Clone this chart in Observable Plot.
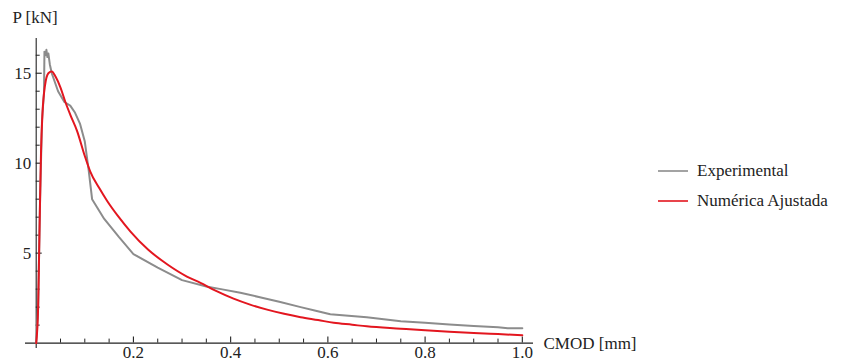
<!DOCTYPE html>
<html><head><meta charset="utf-8">
<script src="https://cdn.jsdelivr.net/npm/d3@7"></script>
<script src="https://cdn.jsdelivr.net/npm/@observablehq/plot@0.6"></script>
<style>
body{margin:0;background:#fff;}
#wrap{position:relative;width:843px;height:362px;font-family:"Liberation Serif","Times New Roman","DejaVu Serif",serif;}
#wrap svg text{font-family:"Liberation Serif","Times New Roman","DejaVu Serif",serif;}
#legend{position:absolute;left:658px;top:156px;font-size:17px;color:#222;}
.item{display:flex;align-items:center;height:30px;white-space:nowrap;}
.item svg{margin-right:9px;}
</style></head><body><div id="wrap"></div>
<script>
// Experimental curve (CMOD mm, P kN)
const expX = [0, 0.004, 0.008, 0.012, 0.016, 0.017, 0.019, 0.021, 0.023, 0.025, 0.028, 0.032, 0.045, 0.058, 0.07, 0.08, 0.09, 0.1, 0.108, 0.115, 0.14, 0.17, 0.2, 0.25, 0.3, 0.35, 0.38, 0.42, 0.46, 0.5, 0.544, 0.575, 0.605, 0.68, 0.75, 0.8, 0.85, 0.9, 0.95, 0.97, 1.0];
const expY = [0, 2, 8, 12.4, 13.9, 16.2, 16.0, 16.3, 15.9, 16.1, 15.5, 15.0, 14.0, 13.4, 13.2, 12.8, 12.2, 11.2, 9.6, 8.0, 6.9, 5.9, 4.95, 4.2, 3.5, 3.15, 3.0, 2.8, 2.55, 2.3, 2.0, 1.8, 1.6, 1.44, 1.22, 1.13, 1.03, 0.95, 0.88, 0.82, 0.82];
// Fitted numerical curve
const numX = [0, 0.004, 0.006, 0.008, 0.010, 0.013, 0.018, 0.025, 0.032, 0.04, 0.05, 0.06, 0.07, 0.084, 0.1, 0.111, 0.13, 0.146, 0.17, 0.194, 0.23, 0.27, 0.31, 0.338, 0.37, 0.406, 0.44, 0.475, 0.51, 0.544, 0.58, 0.612, 0.65, 0.68, 0.75, 0.8, 0.85, 0.9, 0.95, 1.0];
const numY = [0, 2, 5, 8, 10.7, 12.8, 14.3, 15.0, 15.1, 14.8, 14.2, 13.4, 12.7, 11.8, 10.4, 9.55, 8.6, 7.9, 7.0, 6.2, 5.2, 4.37, 3.7, 3.35, 2.9, 2.47, 2.14, 1.86, 1.63, 1.44, 1.28, 1.13, 1.02, 0.93, 0.8, 0.71, 0.63, 0.56, 0.5, 0.44];

const seriesNames = ["Experimental", "Numérica Ajustada"];
const seriesColors = ["#8c8c8c", "#e3161f"];

const xMajor = [0.2, 0.4, 0.6, 0.8, 1.0];
const xTickLabels = ["0.2", "0.4", "0.6", "0.8", "1.0"];
const xMinor = [0.05, 0.1, 0.15, 0.25, 0.3, 0.35, 0.45, 0.5, 0.55, 0.65, 0.7, 0.75, 0.85, 0.9, 0.95];
const yMajor = [5, 10, 15];
const yTickLabels = ["5", "10", "15"];
const yMinor = [1, 2, 3, 4, 6, 7, 8, 9, 11, 12, 13, 14, 16];
const xLabel = "CMOD [mm]";
const yLabel = "P [kN]";
const xDomain = [-0.022, 1.023];
const yDomain = [-0.3, 16.93];

const W = 843, H = 362, mL = 25, mR = 310, mT = 38, mB = 14;
// tick lengths in pixels converted to data units
const xUnitPerPx = (xDomain[1] - xDomain[0]) / (W - mL - mR);
const yUnitPerPx = (yDomain[1] - yDomain[0]) / (H - mT - mB);
const majLen = 6, minLen = 4;

const expData = expX.map((x, i) => ({x, y: expY[i]}));
const numData = numX.map((x, i) => ({x, y: numY[i]}));
const axisColor = "#222";
const serif = "Liberation Serif, Times New Roman, DejaVu Serif, serif";

const chart = Plot.plot({
  width: W, height: H,
  marginLeft: mL, marginRight: mR, marginTop: mT, marginBottom: mB,
  style: {fontFamily: serif, fontSize: "17px", background: "transparent"},
  x: {domain: xDomain, axis: null},
  y: {domain: yDomain, axis: null},
  marks: [
    Plot.ruleY([0], {stroke: axisColor, strokeWidth: 1.1}),
    Plot.ruleX([0], {stroke: axisColor, strokeWidth: 1.1}),
    Plot.ruleX(xMajor, {x: d => d, y1: 0, y2: majLen * yUnitPerPx, stroke: axisColor, strokeWidth: 1.1}),
    Plot.ruleX(xMinor, {x: d => d, y1: 0, y2: minLen * yUnitPerPx, stroke: axisColor}),
    Plot.ruleY(yMajor, {y: d => d, x1: 0, x2: majLen * xUnitPerPx, stroke: axisColor, strokeWidth: 1.1}),
    Plot.ruleY(yMinor, {y: d => d, x1: 0, x2: minLen * xUnitPerPx, stroke: axisColor}),
    Plot.text(xMajor, {x: d => d, y: 0, dy: 9, text: (d, i) => xTickLabels[i], fill: "#222", fontSize: 17, lineAnchor: "middle"}),
    Plot.text(yMajor, {x: 0, y: d => d, dx: -5, text: (d, i) => yTickLabels[i], fill: "#222", fontSize: 17, textAnchor: "end"}),
    Plot.line(expData, {x: "x", y: "y", stroke: seriesColors[0], strokeWidth: 2}),
    Plot.line(numData, {x: "x", y: "y", stroke: seriesColors[1], strokeWidth: 2, curve: "monotone-x"}),
    Plot.text([xLabel], {x: xDomain[1], y: 0, dx: 10, textAnchor: "start", fill: "#222", fontSize: 17}),
    Plot.text([yLabel], {frameAnchor: "top-left", dx: -13, dy: -21, textAnchor: "start", lineAnchor: "middle", fill: "#222", fontSize: 17})
  ]
});
const wrap = document.getElementById("wrap");
wrap.appendChild(chart);
const legend = document.createElement("div");
legend.id = "legend";
seriesNames.forEach((name, i) => {
  const item = document.createElement("div");
  item.className = "item";
  item.innerHTML = `<svg width="30" height="4"><line x1="0" x2="30" y1="2" y2="2" stroke="${seriesColors[i]}" stroke-width="1.6"/></svg><span>${name}</span>`;
  legend.appendChild(item);
});
wrap.appendChild(legend);
</script>
</body></html>
